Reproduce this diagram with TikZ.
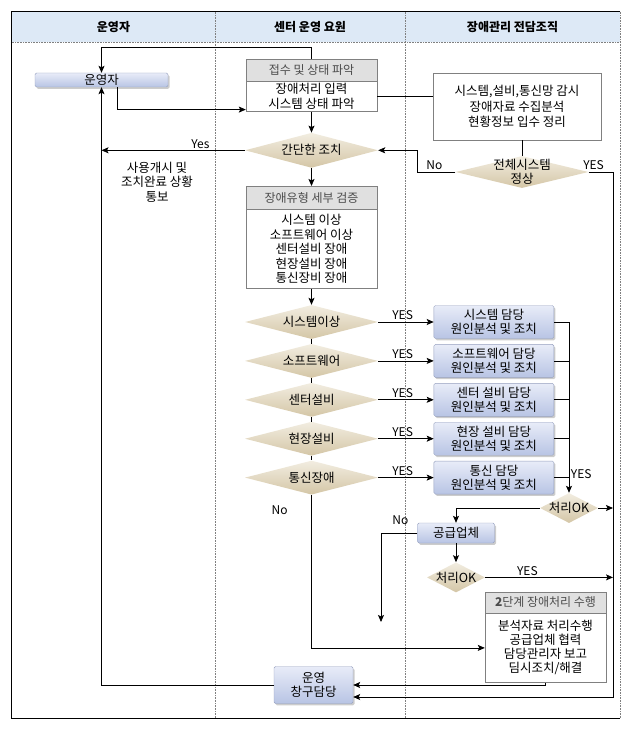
\documentclass[tikz,border=0pt]{standalone}
\usepackage{fontspec}
\setmainfont{Noto Sans CJK KR}
\usetikzlibrary{positioning}
\usetikzlibrary{shapes.geometric}
\usetikzlibrary{arrows.meta}
\usetikzlibrary{shadows}
\usepackage{xcolor}
\definecolor{headblue}{RGB}{221,233,246}
\definecolor{boxtop}{RGB}{232,236,248}
\definecolor{boxbot}{RGB}{184,196,228}
\definecolor{boxline}{RGB}{150,160,190}
\definecolor{dtop}{RGB}{242,237,225}
\definecolor{dbot}{RGB}{212,198,166}
\definecolor{headgray}{RGB}{224,224,224}

\begin{document}
\begin{tikzpicture}[
		x=1pt, y=-1pt,
		% Style definitions
		lanehead/.style={fill=headblue, minimum height=30pt, inner sep=0pt, font=\fontsize{12}{14}\selectfont\bfseries},
		bluebox/.style={draw=boxline, rounded corners=1.5pt, top color=boxtop, bottom color=boxbot,
			drop shadow={shadow xshift=1.5pt, shadow yshift=-1.8pt, opacity=0.4},
			align=center, inner sep=0pt, font=\fontsize{12.5}{14.5}\selectfont},
		graybar/.style={draw=gray, fill=headgray, inner sep=0pt, text=black!70, font=\fontsize{12}{13}\selectfont},
		plainbox/.style={draw=gray, fill=white, align=center, inner sep=0pt, font=\fontsize{12.5}{14.5}\selectfont},
		choice/.style={diamond, aspect=3.9, top color=dtop, bottom color=dbot, inner sep=0pt, font=\fontsize{12.5}{14}\selectfont},
		lbl/.style={font=\fontsize{12}{13}\selectfont, inner sep=1.5pt},
		conn/.style={line width=0.8pt},
		arrow/.style={conn, -{Stealth[length=7pt, width=6pt, inset=1.5pt]}},
		lane/.style={densely dotted, line width=0.6pt, gray},
		frameline/.style={line width=0.8pt},
		]
		\useasboundingbox (0,0) rectangle (632,730);

		% === Lane headers and frame ===
		\node[lanehead, minimum width=203pt] (laneOp) at (113.5,27) {운영자};
		\node[lanehead, minimum width=190pt] (laneCtr) at (310,27) {센터 운영 요원};
		\node[lanehead, minimum width=215pt] (laneTeam) at (512.5,27) {장애관리 전담조직};
		\coordinate (bottom) at (0,718);
		\draw[lane] (laneOp.south west) -- (laneTeam.south east);
		\draw[lane] (laneOp.north east) -- (laneOp.north east |- bottom);
		\draw[lane] (laneCtr.north east) -- (laneCtr.north east |- bottom);
		\draw[lane] (laneTeam.north east) -- (laneTeam.north east |- bottom);
		\draw[frameline] (laneTeam.north east) -- (laneOp.north west) -- (laneOp.north west |- bottom) -- (laneTeam.north east |- bottom);

		% === Lane 1: operator ===
		\node[bluebox, minimum width=133pt, minimum height=14pt] (opr) at (101.5,80) {운영자};
		\node[lbl, align=center, font=\fontsize{12.5}{14.5}\selectfont] (notice) at (157,182) {사용개시 및\\조치완료 상황\\통보};

		% === Lane 2: center staff ===
		\node[graybar, minimum width=131pt, minimum height=22pt] (rcvHead) at (311.5,70) {접수 및 상태 파악};
		\node[plainbox, minimum width=131pt, minimum height=30pt, below=0pt of rcvHead] (rcvBody) {장애처리 입력\\시스템 상태 파악};
		\node[choice, minimum width=133pt, minimum height=35pt, below=21pt of rcvBody] (simple) {간단한 조치};
		\node[graybar, minimum width=131pt, minimum height=23pt, below=18pt of simple] (typHead) {장애유형 세부 검증};
		\node[plainbox, minimum width=131pt, minimum height=79pt, below=0pt of typHead] (typBody) {시스템 이상\\소프트웨어 이상\\센터설비 장애\\현장설비 장애\\통신장비 장애};

		\node[choice, minimum width=133pt, minimum height=34pt, below=16pt of typBody] (d1) {시스템이상};
		\node[choice, minimum width=133pt, minimum height=34pt, below=4.5pt of d1] (d2) {소프트웨어};
		\node[choice, minimum width=133pt, minimum height=34pt, below=4.5pt of d2] (d3) {센터설비};
		\node[choice, minimum width=133pt, minimum height=34pt, below=4.5pt of d3] (d4) {현장설비};
		\node[choice, minimum width=133pt, minimum height=34pt, below=4.5pt of d4] (d5) {통신장애};

		\node[bluebox, minimum width=79pt, minimum height=37pt] (desk) at (313.5,685) {운영\\창구담당};

		% === Lane 3: fault team ===
		\node[plainbox, minimum width=168pt, minimum height=67pt, font=\fontsize{12.5}{15.5}\selectfont] (mon) at (517,106.5) {시스템,설비,통신망 감시\\장애자료 수집분석\\현황정보 입수 정리};
		\node[choice, minimum width=133pt, minimum height=32pt,
			label={[align=center, inner sep=0pt, font=\fontsize{12.5}{14}\selectfont]center:전체시스템\\정상}] (allok) at (522,172) {};

		\node[bluebox, minimum width=120pt, minimum height=33pt, right=55.5pt of d1] (b1) {시스템 담당\\원인분석 및 조치};
		\node[bluebox, minimum width=120pt, minimum height=33pt, right=55.5pt of d2] (b2) {소프트웨어 담당\\원인분석 및 조치};
		\node[bluebox, minimum width=120pt, minimum height=33pt, right=55.5pt of d3] (b3) {센터 설비 담당\\원인분석 및 조치};
		\node[bluebox, minimum width=120pt, minimum height=33pt, right=55.5pt of d4] (b4) {현장 설비 담당\\원인분석 및 조치};
		\node[bluebox, minimum width=120pt, minimum height=33pt, right=55.5pt of d5] (b5) {통신 담당\\원인분석 및 조치};

		\node[choice, aspect=1.9, minimum width=58pt, minimum height=30pt] (ok1) at (569,508) {\makebox[0pt]{처리OK}};
		\node[bluebox, minimum width=77pt, minimum height=20pt] (vendor) at (456,533) {공급업체};
		\node[choice, aspect=1.9, minimum width=58pt, minimum height=30pt, below=19pt of vendor] (ok2) {\makebox[0pt]{처리OK}};
		\node[graybar, minimum width=121pt, minimum height=21pt] (stepHead) at (545.5,602.5) {\textbf{2}단계 장애처리 수행};
		\node[plainbox, minimum width=121pt, minimum height=69pt, font=\fontsize{12.5}{14}\selectfont, below=0pt of stepHead] (stepBody) {분석자료 처리수행\\공급업체 협력\\담당관리자 보고\\딤시조치/해결};

		\coordinate (railTop) at (613,172);
		\coordinate (railBot) at (613,697);
		\coordinate (vendEnd) at (381,622);

		% === Connectors ===
		\draw[arrow] (rcvHead.north) -- ++(0,-11) -| (opr.north);
		\draw[arrow] ([xshift=15.5pt]opr.south) |- ([yshift=2pt]rcvBody.south west);
		\draw[arrow] (rcvBody.south) -- (simple.north);
		\draw[conn] (rcvBody.east) -- (rcvBody.east -| mon.west);
		\draw[conn] (allok.north |- mon.south) -- (allok.north);
		\draw[arrow] (simple.west) -- node[lbl, above, pos=0.31] (yesSimple) {Yes} (simple.west -| opr.south);
		\draw[arrow] (allok.west) -- node[lbl, above, pos=0.55] (noAll) {No} ++(-38,0) |- (simple.east);
		\draw[arrow] (allok.east) -- node[lbl, above, pos=0.2] (yesAll) {YES} (allok.east -| railTop) -- (railBot) -- (railBot -| desk.east);
		\draw[arrow] (simple.south) -- (typHead.north);
		\draw[arrow] (typBody.south) -- (d1.north);
		\foreach \i/\j in {1/2,2/3,3/4,4/5}
			\draw[conn] (d\i.south) -- (d\j.north);
		\foreach \i in {1,...,5}
			\draw[arrow] (d\i.east) -- node[lbl, above, pos=0.44] (yes\i) {YES} (b\i.west);
		\draw[arrow] (b1.east) -| node[lbl, right, pos=0.945] (yesOk1) {YES} (ok1.north);
		\foreach \i in {2,...,5}
			\draw[conn] (b\i.east) -- (b\i.east -| ok1.north);
		\draw[arrow] (ok1.east) -- (ok1.east -| railTop);
		\draw[arrow] (ok1.west) -| (vendor.north);
		\node[lbl] (noOk1) at ([xshift=-17pt, yshift=3pt]vendor.north west) {No};
		\draw[arrow] (vendor.west) -| (vendEnd);
		\draw[arrow] (vendor.south) -- (ok2.north);
		\draw[arrow] (ok2.east) -- node[lbl, above, pos=0.33] (yesOk2) {YES} (ok2.east -| railTop);
		\draw[arrow] (d5.south) |- node[lbl, left=22pt, pos=0.05] (noD5) {No} (stepBody.west);
		\draw[arrow] (stepBody.south) |- (desk.east);
		\draw[arrow] (desk.west) -| (opr.south);

	\end{tikzpicture}
\end{document}
